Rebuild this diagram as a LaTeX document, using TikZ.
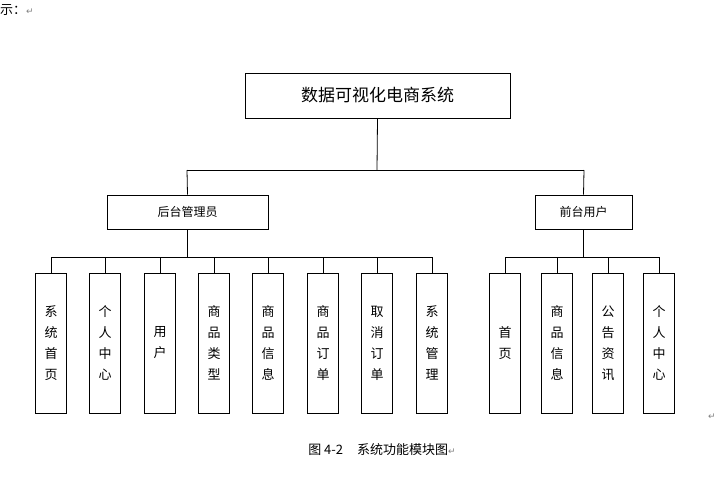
\documentclass[tikz,border=0pt]{standalone}
\usepackage{fontspec}
\newfontfamily\cjk{Noto Sans CJK SC}
\newfontfamily\dv{DejaVu Sans}
\begin{document}
\begin{tikzpicture}[x=1pt,y=-1pt,
  box/.style={draw,thick,inner sep=0pt,font=\cjk},
  leaf/.style={box,minimum width=31pt,minimum height=140pt,align=center,font=\cjk\fontsize{13}{21}\selectfont},
  ln/.style={thick}]
\useasboundingbox (0,0) rectangle (719,487);
\node[anchor=north west,inner sep=0pt,font=\cjk\fontsize{13}{15}\selectfont] (t0) at (0,4) {示：{\dv\color{gray}\fontsize{9}{10}\selectfont ↵}};
\node[box,minimum width=265pt,minimum height=45pt,font=\cjk\fontsize{17}{20}\selectfont] (top) at (377.5,95.5) {数据可视化电商系统};
\node[box,minimum width=161pt,minimum height=34pt,font=\cjk\fontsize{12}{14}\selectfont] (adm) at (187.5,212) {后台管理员};
\node[box,minimum width=97pt,minimum height=34pt,font=\cjk\fontsize{12}{14}\selectfont] (usr) at (583.5,212) {前台用户};
\coordinate (h) at (377,170);
\draw[ln] (top.south) -- (h);
\draw[ln] (187,170) -- (584,170);
\draw[ln] (187,170) -- (adm.north);
\draw[ln] (584,170) -- (usr.north);
\foreach \x/\t/\n in {51/系\\统\\首\\页/a1,105/个\\人\\中\\心/a2,160/用\\户/a3,214/商\\品\\类\\型/a4,268/商\\品\\信\\息/a5,323/商\\品\\订\\单/a6,377/取\\消\\订\\单/a7,432/系\\统\\管\\理/a8}{
  \node[leaf] (\n) at (\x,343) {\t};
  \draw[ln] (\n.north) -- (\x,257);
}
\draw[ln] (adm.south) -- (187.5,257);
\draw[ln] (51,257) -- (432,257);
\foreach \x/\t/\n in {505/首\\页/b1,557/商\\品\\信\\息/b2,608/公\\告\\资\\讯/b3,659/个\\人\\中\\心/b4}{
  \node[leaf] (\n) at (\x,343) {\t};
  \draw[ln] (\n.north) -- (\x,257);
}
\draw[ln] (usr.south) -- (583.5,257);
\draw[ln] (505,257) -- (659,257);
\node[font=\dv\fontsize{9}{10}\selectfont,text=gray] (r1) at (712,417) {↵};
\node[font=\cjk\fontsize{13}{15}\selectfont] (cap) at (382,450) {图 4-2\hspace{14pt}系统功能模块图{\dv\color{gray}\fontsize{9}{10}\selectfont ↵}};
\end{tikzpicture}
\end{document}
